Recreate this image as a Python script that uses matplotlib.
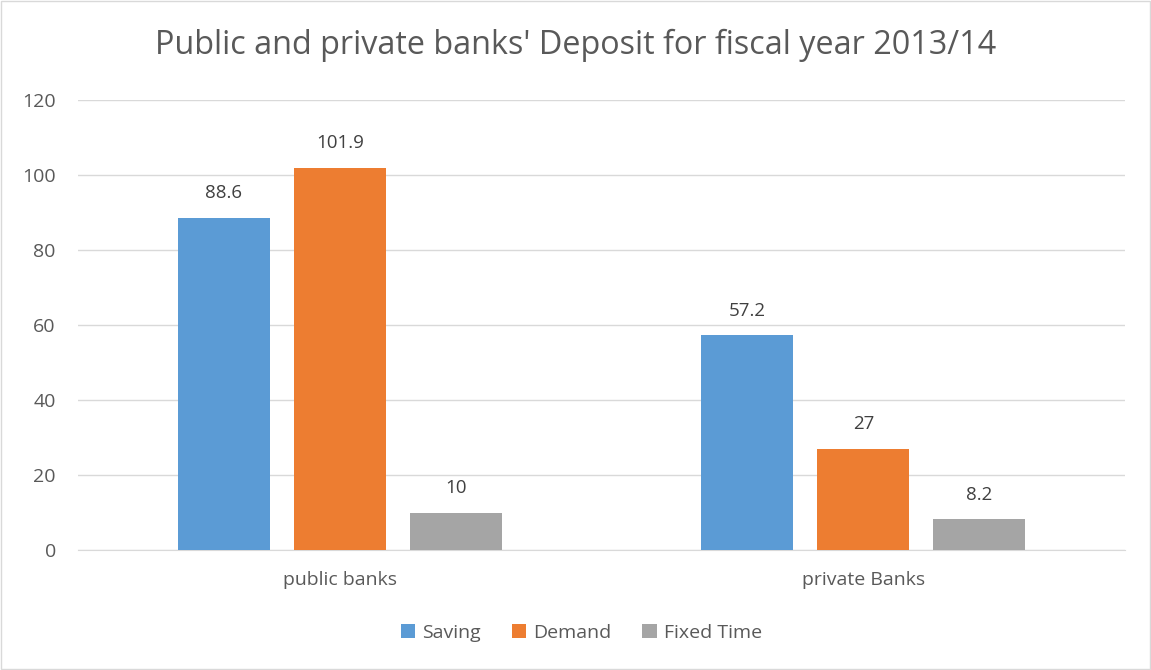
import matplotlib
matplotlib.use("Agg")
import matplotlib.pyplot as plt
import numpy as np
from matplotlib.patches import Rectangle

categories = ["public banks", "private Banks"]
series_names = ["Saving", "Demand", "Fixed Time"]
saving = [88.6, 57.2]
demand = [101.9, 27]
fixed_time = [10, 8.2]
y_ticks = [0, 20, 40, 60, 80, 100, 120]

colors = ["#5B9BD5", "#ED7D31", "#A5A5A5"]
text_color = "#595959"
plt.rcParams["font.family"] = ["Open Sans", "DejaVu Sans"]

fig = plt.figure(figsize=(11.51, 6.70), dpi=100)
fig.patches.append(Rectangle((0.001, 0.001), 0.998, 0.997, transform=fig.transFigure,
                             fill=False, edgecolor="#D9D9D9", linewidth=1))
ax = fig.add_axes([0.0678, 0.179, 0.9097, 0.672])

x = np.arange(len(categories))
width = 0.176
step = 0.2216
for i, (vals, name, c) in enumerate(zip([saving, demand, fixed_time], series_names, colors)):
    pos = x + (i - 1) * step
    bars = ax.bar(pos, vals, width, color=c, label=name, zorder=3)
    for b, v in zip(bars, vals):
        ax.annotate(f"{v:g}", (b.get_x() + b.get_width() / 2, v), xytext=(0, 11),
                    textcoords="offset points", ha="center", va="bottom",
                    fontsize=13.5, color="#404040")

ax.set_xlim(-0.5, 1.5)
ax.set_ylim(0, 120)
ax.set_yticks(y_ticks)
ax.set_xticks(x)
ax.set_xticklabels(categories)
ax.tick_params(axis="both", length=0, labelsize=14, labelcolor=text_color)
ax.tick_params(axis="x", pad=15)
ax.tick_params(axis="y", pad=16)
ax.grid(axis="y", color="#D9D9D9", linewidth=1, zorder=0)
for s in ["top", "right", "left"]:
    ax.spines[s].set_visible(False)
ax.spines["bottom"].set_color("#D9D9D9")
ax.set_axisbelow(True)

fig.text(0.5, 0.932, "Public and private banks' Deposit for fiscal year 2013/14",
         ha="center", va="center", fontsize=23.3, color=text_color)

leg = fig.legend(loc="center", bbox_to_anchor=(0.505, 0.055), ncol=3, frameon=False,
                 fontsize=14, handlelength=0.75, handleheight=0.75, handletextpad=0.35,
                 columnspacing=1.6)
for t in leg.get_texts():
    t.set_color(text_color)

fig.savefig("out.png", dpi=100)
